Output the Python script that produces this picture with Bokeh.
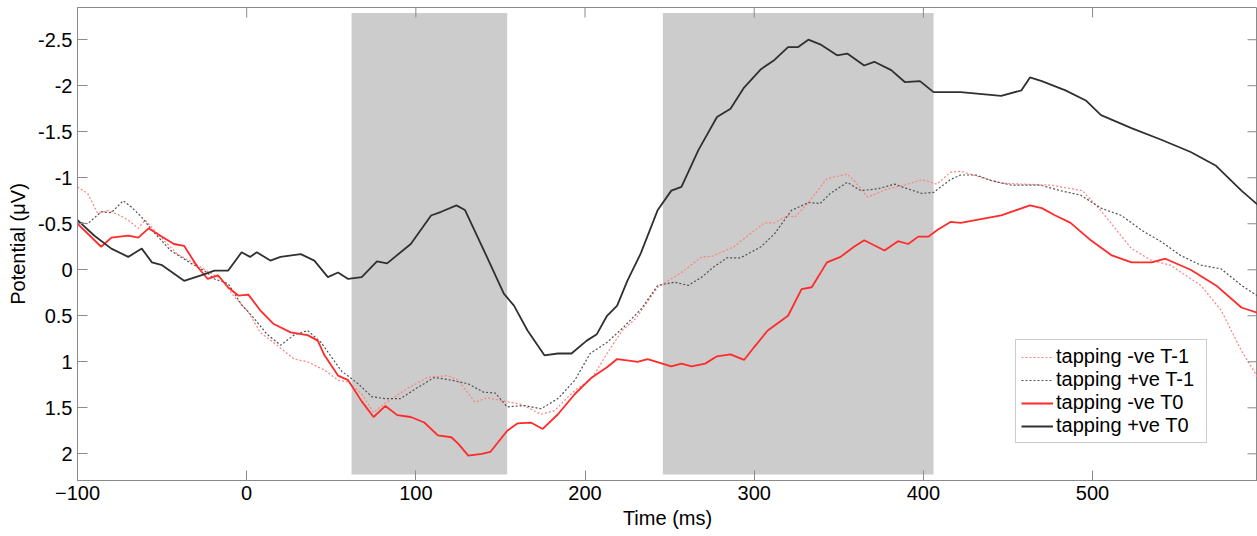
import math
from bokeh.plotting import figure
from bokeh.models import Range1d, FixedTicker, Legend, LegendItem
from bokeh.embed import file_html
from bokeh.resources import INLINE

# ---------------- data ----------------
x_ticks = [-100, 0, 100, 200, 300, 400, 500]
y_ticks = [-2.5, -2, -1.5, -1, -0.5, 0, 0.5, 1, 1.5, 2]
y_tick_labels = ["-2.5", "-2", "-1.5", "-1", "-0.5", "0", "0.5", "1", "1.5", "2"]

x_min, x_max = -100, 597.5
y_bottom, y_top = 2.29, -2.85

shade_start = [62, 246]
shade_end = [154, 406]
shade_top = -2.79
shade_bottom = 2.225

# tapping -ve T-1 (red dotted)
t_neg_tm1 = [-100, -94, -88, -82, -76, -70, -64, -60, -51, -41, -31, -21, -15, -7, 1, 8, 18, 28, 36, 46,
             54, 60, 68, 75, 81, 95, 107, 119, 125, 135, 142, 150, 162, 174, 182, 194, 204, 213, 222, 230,
             243, 257, 269, 275, 288, 306, 312, 320, 324, 332, 343, 355, 359, 367, 379, 389, 399, 408, 416,
             422, 446, 475, 494, 505, 523, 535, 546, 564, 576, 588, 598]
v_neg_tm1 = [-0.90, -0.83, -0.61, -0.645, -0.60, -0.54, -0.45, -0.54, -0.36, -0.17, -0.07, 0.04, 0.10, 0.30,
             0.46, 0.68, 0.82, 0.97, 1.00, 1.09, 1.20, 1.22, 1.35, 1.55, 1.46, 1.29, 1.17, 1.15, 1.20, 1.44,
             1.39, 1.42, 1.46, 1.57, 1.53, 1.31, 1.185, 0.91, 0.66, 0.53, 0.19, 0.03, -0.14, -0.145, -0.25,
             -0.51, -0.51, -0.59, -0.57, -0.73, -0.99, -1.04, -0.97, -0.79, -0.88, -0.92, -0.98, -0.93, -1.06,
             -1.07, -0.94, -0.92, -0.86, -0.64, -0.23, -0.10, -0.05, 0.17, 0.44, 0.88, 1.18]

# tapping +ve T-1 (black dotted)
t_pos_tm1 = [-100, -94, -86, -80, -73, -68, -62, -55, -45, -33, -25, -19, -11, -3, 4, 12, 20, 28, 36, 44,
             56, 66, 74, 82, 91, 101, 111, 121, 131, 140, 147, 154, 164, 174, 184, 194, 203, 213, 223, 233,
             243, 253, 261, 269, 276, 284, 292, 304, 312, 322, 332, 339, 345, 355, 363, 373, 383, 389, 399,
             406, 416, 422, 431, 440, 452, 469, 481, 493, 505, 517, 529, 541, 552, 564, 576, 588, 598]
v_pos_tm1 = [-0.52, -0.50, -0.63, -0.62, -0.75, -0.68, -0.57, -0.41, -0.21, -0.07, 0.01, 0.10, 0.15, 0.38,
             0.52, 0.70, 0.82, 0.71, 0.66, 0.79, 1.10, 1.24, 1.38, 1.40, 1.40, 1.28, 1.17, 1.20, 1.24, 1.33,
             1.34, 1.49, 1.475, 1.51, 1.40, 1.20, 0.91, 0.79, 0.62, 0.43, 0.17, 0.135, 0.17, 0.08, -0.03,
             -0.13, -0.13, -0.25, -0.39, -0.645, -0.73, -0.72, -0.83, -0.95, -0.86, -0.88, -0.93, -0.89,
             -0.83, -0.84, -0.98, -1.03, -1.03, -0.97, -0.92, -0.92, -0.86, -0.81, -0.67, -0.59, -0.43,
             -0.30, -0.155, -0.05, -0.01, 0.17, 0.29]

# tapping -ve T0 (red solid)
t_neg_t0 = [-100, -86, -80, -70, -64, -58, -51, -43, -37, -29, -23, -17, -11, -5, 1, 8, 16, 26, 36, 42,
            46, 54, 60, 68, 75, 82, 89, 97, 105, 113, 121, 125, 131, 139, 144, 154, 160, 168, 175, 184,
            194, 204, 213, 219, 227, 231, 237, 251, 257, 263, 271, 278, 286, 294, 300, 308, 320, 328, 334,
            343, 351, 359, 365, 377, 385, 391, 397, 403, 408, 416, 422, 446, 463, 470, 478, 487, 499, 511,
            523, 535, 543, 558, 573, 588, 598]
v_neg_t0 = [-0.50, -0.25, -0.35, -0.37, -0.35, -0.45, -0.37, -0.28, -0.26, -0.03, 0.10, 0.06, 0.19, 0.28,
            0.27, 0.44, 0.59, 0.68, 0.71, 0.77, 0.93, 1.15, 1.20, 1.43, 1.60, 1.48, 1.58, 1.60, 1.66, 1.80,
            1.82, 1.89, 2.02, 2.00, 1.98, 1.75, 1.67, 1.66, 1.73, 1.57, 1.35, 1.17, 1.06, 0.97, 0.99, 1.00,
            0.97, 1.05, 1.02, 1.05, 1.02, 0.94, 0.92, 0.98, 0.84, 0.66, 0.50, 0.21, 0.19, -0.08, -0.14,
            -0.25, -0.32, -0.21, -0.31, -0.28, -0.36, -0.36, -0.43, -0.52, -0.51, -0.59, -0.70, -0.67,
            -0.59, -0.51, -0.32, -0.16, -0.08, -0.08, -0.12, 0.0, 0.17, 0.41, 0.47]

# tapping +ve T0 (black solid)
t_pos_t0 = [-100, -90, -80, -70, -62, -56, -50, -37, -27, -19, -11, -3, 2, 6, 14, 20, 32, 40, 48, 54,
            60, 68, 77, 83, 97, 109, 115, 124, 129, 142, 152, 158, 166, 176, 184, 192, 201, 207, 213, 219,
            225, 233, 243, 251, 257, 267, 278, 286, 294, 304, 312, 320, 326, 332, 339, 349, 355, 365, 371,
            381, 389, 398, 406, 416, 422, 446, 458, 463, 470, 484, 496, 505, 523, 541, 558, 573, 588, 598]
v_pos_t0 = [-0.54, -0.37, -0.23, -0.14, -0.23, -0.08, -0.05, 0.12, 0.06, 0.01, 0.01, -0.19, -0.14, -0.19,
            -0.10, -0.14, -0.17, -0.10, 0.08, 0.03, 0.10, 0.08, -0.09, -0.07, -0.28, -0.59, -0.63, -0.70,
            -0.65, -0.14, 0.26, 0.39, 0.66, 0.93, 0.91, 0.91, 0.77, 0.70, 0.50, 0.39, 0.12, -0.18, -0.65,
            -0.86, -0.90, -1.30, -1.66, -1.75, -1.98, -2.18, -2.28, -2.42, -2.42, -2.50, -2.45, -2.33,
            -2.35, -2.22, -2.26, -2.17, -2.04, -2.05, -1.93, -1.93, -1.93, -1.89, -1.95, -2.09, -2.05,
            -1.95, -1.84, -1.68, -1.54, -1.41, -1.28, -1.13, -0.86, -0.70]

series_labels = ["tapping -ve T-1", "tapping +ve T-1", "tapping -ve T0", "tapping +ve T0"]

# ---------------- figure ----------------
FONT = "Liberation Sans"
AX = "#8a8a8a"

p = figure(width=1257, height=536, x_range=Range1d(x_min, x_max), y_range=Range1d(y_bottom, y_top),
           output_backend="svg", toolbar_location=None,
           min_border_left=77, min_border_right=0, min_border_top=7, min_border_bottom=56)
p.xgrid.visible = False
p.ygrid.visible = False
p.outline_line_color = AX
p.outline_line_width = 1
p.background_fill_color = "white"
p.border_fill_color = "white"

p.quad(left=shade_start, right=shade_end, top=shade_top, bottom=shade_bottom,
       fill_color="#cccccc", line_color=None)

r1 = p.line(t_neg_tm1, v_neg_tm1, line_color="#ff8080", line_width=1.2, line_dash="2 2")
r2 = p.line(t_pos_tm1, v_pos_tm1, line_color="#505050", line_width=1.2, line_dash="2 2")
r3 = p.line(t_neg_t0, v_neg_t0, line_color="#ff2a2a", line_width=1.8)
r4 = p.line(t_pos_t0, v_pos_t0, line_color="#303030", line_width=1.8)

# mirrored inward ticks on the top and right edges (MATLAB box style)
p.scatter(x=x_ticks, y=[y_top] * len(x_ticks), marker="dash", size=20, angle=math.pi / 2,
          line_color=AX, line_width=1)
p.scatter(x=[x_max] * len(y_ticks), y=y_ticks, marker="dash", size=20,
          line_color=AX, line_width=1)


def style_axis(ax, ticks):
    ax.ticker = FixedTicker(ticks=ticks)
    ax.axis_line_color = AX
    ax.major_tick_line_color = AX
    ax.major_tick_in = 10
    ax.major_tick_out = 0
    ax.minor_tick_line_color = None
    ax.major_label_text_font = FONT
    ax.major_label_text_color = "black"
    ax.major_label_text_font_size = "20px"
    ax.major_label_standoff = 5
    ax.axis_label_text_font = FONT
    ax.axis_label_text_font_size = "20px"
    ax.axis_label_text_font_style = "normal"
    ax.axis_label_text_color = "black"


xa = p.xaxis[0]
style_axis(xa, x_ticks)
xa.axis_label = "Time (ms)"
xa.axis_label_standoff = 4

ya = p.yaxis[0]
style_axis(ya, y_ticks)
ya.major_label_overrides = {t: s for t, s in zip(y_ticks, y_tick_labels)}
ya.axis_label = "Potential (μV)"
ya.axis_label_standoff = 6

legend = Legend(items=[LegendItem(label=l, renderers=[r]) for l, r in zip(series_labels, [r1, r2, r3, r4])],
                location=(938, 37))
legend.label_text_font = FONT
legend.label_text_font_size = "20px"
legend.label_text_color = "black"
legend.glyph_width = 32
legend.glyph_height = 20
legend.label_standoff = 3
legend.label_width = 145
legend.spacing = 0
legend.padding = 5
legend.margin = 0
legend.border_line_color = "#999999"
legend.border_line_width = 1
legend.background_fill_alpha = 1.0
p.add_layout(legend, "center")

open("out.html", "w").write(file_html(p, INLINE))
